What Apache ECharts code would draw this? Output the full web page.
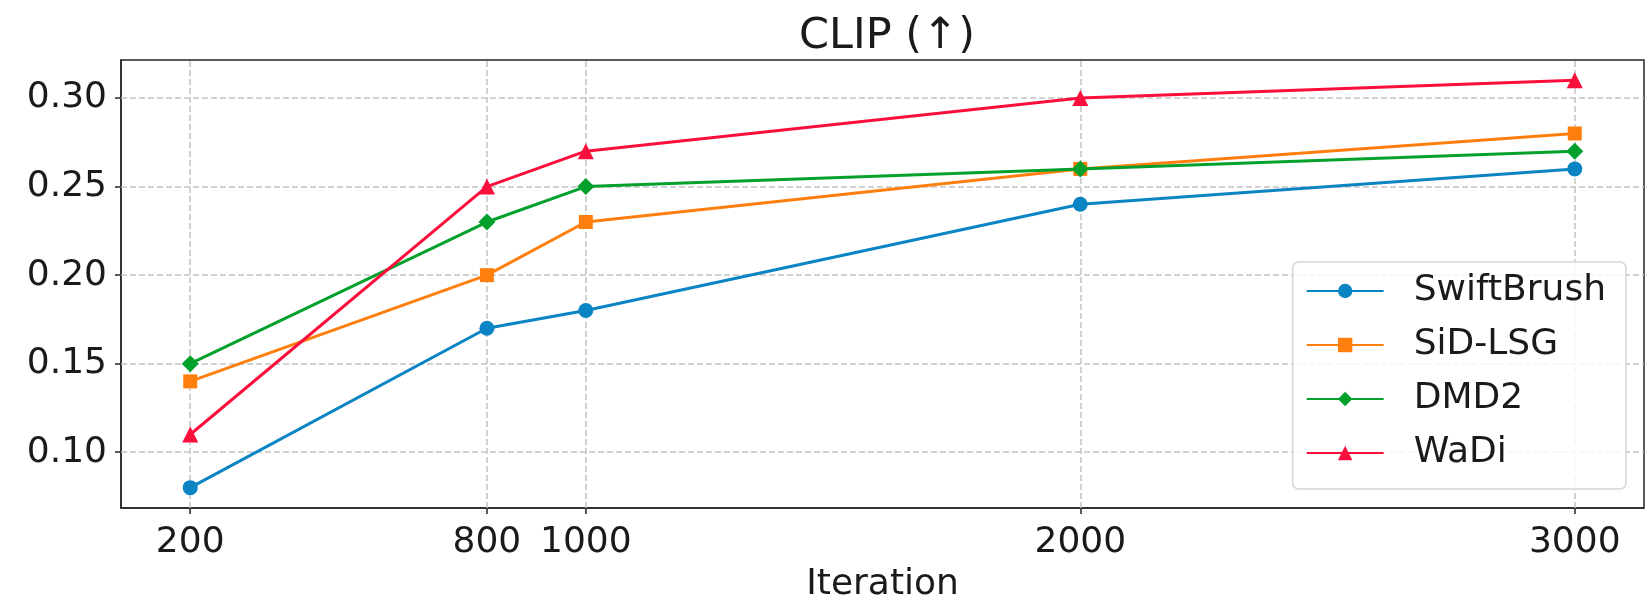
<!DOCTYPE html>
<html>
<head>
    <meta charset="utf-8">
    <title>CLIP vs Iteration</title>
    <script src="https://cdn.jsdelivr.net/npm/echarts@6/dist/echarts.min.js"></script>
    <style>
        html, body { margin: 0; padding: 0; background: #fff; }
    </style>
</head>
<body>
    <div id="main" style="width:1649px;height:596px;"></div>
    <script type="text/javascript">
        // data
        var iterations = [200, 800, 1000, 2000, 3000];
        var swiftBrush = [0.08, 0.17, 0.18, 0.24, 0.26];
        var sidLsg = [0.14, 0.20, 0.23, 0.26, 0.28];
        var dmd2 = [0.15, 0.23, 0.25, 0.26, 0.27];
        var waDi = [0.11, 0.25, 0.27, 0.30, 0.31];
        var xTicks = [200, 800, 1000, 2000, 3000];
        var yTicks = [0.10, 0.15, 0.20, 0.25, 0.30];
        var names = ['SwiftBrush', 'SiD-LSG', 'DMD2', 'WaDi'];

        var font = 'DejaVu Sans';
        var ink = '#1a1a1a';

        var pairs = function (ys) {
            return iterations.map(function (x, i) { return [x, ys[i]]; });
        };

        var mkSeries = function (name, ys, color, symbol, size) {
            return {
                name: name,
                type: 'line',
                data: pairs(ys),
                symbol: symbol,
                symbolSize: size,
                showAllSymbol: true,
                z: 3,
                lineStyle: { color: color, width: 3 },
                itemStyle: { color: color, borderWidth: 0 }
            };
        };

        // gridlines are drawn with markLine so they sit on the tick values
        var gridLines = [];
        yTicks.forEach(function (v) { gridLines.push({ yAxis: v }); });
        xTicks.forEach(function (v) { gridLines.push({ xAxis: v }); });

        var myChart = echarts.init(document.getElementById('main'));

        var option = {
            animation: false,
            backgroundColor: '#fff',
            title: {
                text: 'CLIP (↑)',
                left: 882,
                top: 10,
                textAlign: 'center',
                textStyle: { fontFamily: font, fontSize: 43, fontWeight: 'normal', color: ink }
            },
            legend: {
                data: names,
                orient: 'vertical',
                right: 23,
                bottom: 107,
                z: 20,
                padding: [11, 20, 18, 13],
                itemWidth: 77,
                itemHeight: 18,
                itemGap: 18,
                backgroundColor: 'rgba(255,255,255,0.85)',
                borderColor: '#d6d6d6',
                borderWidth: 1.5,
                borderRadius: 6,
                textStyle: {
                    fontFamily: font, fontSize: 36, color: ink,
                    lineHeight: 36, padding: [0, 0, 0, 25]
                }
            },
            grid: {
                left: 121,
                right: 5,
                top: 60,
                bottom: 88,
                containLabel: false,
                outerBoundsMode: 'none',
                show: true,
                borderColor: '#262626',
                borderWidth: 1.5
            },
            xAxis: {
                type: 'value',
                min: 60,
                max: 3140,
                name: 'Iteration',
                nameLocation: 'middle',
                nameGap: 59,
                nameTextStyle: { fontFamily: font, fontSize: 36, color: ink },
                axisLine: { show: true, lineStyle: { color: '#262626', width: 1.5 } },
                axisTick: {
                    show: true, length: 6, customValues: xTicks,
                    lineStyle: { color: '#262626', width: 1.5 }
                },
                axisLabel: {
                    customValues: xTicks, margin: 17,
                    fontFamily: font, fontSize: 36, color: ink,
                    formatter: function (v) { return String(v); }
                },
                splitLine: { show: false }
            },
            yAxis: {
                type: 'value',
                min: 0.0685,
                max: 0.3215,
                axisLine: { show: true, lineStyle: { color: '#262626', width: 1.5 } },
                axisTick: {
                    show: true, length: 6, customValues: yTicks,
                    lineStyle: { color: '#262626', width: 1.5 }
                },
                axisLabel: {
                    customValues: yTicks, margin: 14,
                    fontFamily: font, fontSize: 36, color: ink,
                    formatter: function (v) { return v.toFixed(2); }
                },
                splitLine: { show: false }
            },
            series: [
                {
                    name: 'grid',
                    type: 'line',
                    data: [],
                    z: 1,
                    markLine: {
                        silent: true,
                        z: 1,
                        symbol: ['none', 'none'],
                        label: { show: false },
                        lineStyle: { color: '#c4c4c4', width: 1.5, type: [6, 3] },
                        data: gridLines
                    }
                },
                mkSeries('SwiftBrush', swiftBrush, '#0b84c4', 'circle', 15),
                mkSeries('SiD-LSG', sidLsg, '#ff7f0e', 'rect', 14),
                mkSeries('DMD2', dmd2, '#03a12c', 'diamond', 17),
                mkSeries('WaDi', waDi, '#fa0f3c', 'triangle', 16)
            ]
        };

        myChart.setOption(option);
    </script>
</body>
</html>
